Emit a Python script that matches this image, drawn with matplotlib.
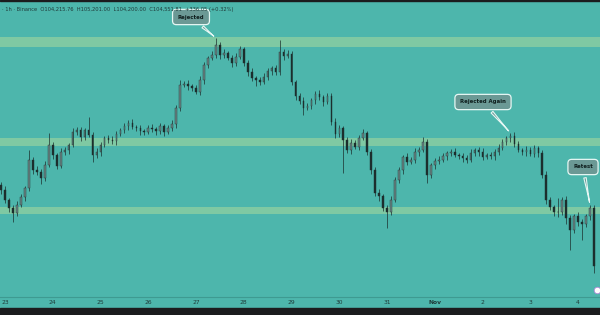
import numpy as np
import pandas as pd
import matplotlib
matplotlib.use("Agg")
import matplotlib.pyplot as plt
import matplotlib.dates as mdates
import matplotlib.transforms as mtransforms

# 2h candles, BTC/USDT, Oct 22 22:00 -> Nov 4 08:00
first_open = 108850
closes = [
    108600, 108100, 107700, 107450, 107850, 108250, 108700, 110100, 109600, 109500,
    109200, 109850, 110850, 110350, 109800, 110500, 110600, 110850, 111500, 111600,
    111250, 111600, 111350, 110350, 110500, 110850, 111200, 111100, 111050, 111400,
    111600, 111800, 111950, 111750, 111700, 111550, 111500, 111700, 111650, 111550,
    111800, 111500, 111700, 111900, 112700, 113850, 113900, 113800, 113700, 113500,
    114100, 114850, 115200, 115350, 115850, 115350, 115450, 115200, 114950, 115250,
    115650, 114950, 114500, 114200, 114100, 114000, 114250, 114550, 114700, 114500,
    115500, 115300, 115400, 114000, 113300, 113050, 112700, 112800, 113100, 113400,
    113250, 113000, 113300, 112000, 111400, 111700, 111100, 110600, 110950, 110750,
    111200, 111450, 110500, 109600, 108450, 108300, 107700, 107500, 108100, 109100,
    109600, 110250, 110000, 110100, 110500, 110600, 111000, 109350, 109850, 110050,
    110100, 110300, 110450, 110500, 110350, 110300, 110200, 110100, 110450, 110600,
    110500, 110250, 110350, 110300, 110500, 110700, 111000, 111200, 111300, 110900,
    110600, 110500, 110600, 110400, 110700, 110450, 109350, 108100, 107750, 107500,
    107500, 108100, 107200, 106600, 107300, 107000, 106900, 107300, 107700, 104800,
]
up_wick = [
    150, 200, 100, 150, 200, 150, 100, 500, 150, 200,
    150, 200, 600, 150, 100, 200, 150, 100, 200, 150,
    150, 100, 650, 150, 200, 150, 100, 150, 200, 150,
    100, 150, 150, 200, 100, 150, 100, 150, 200, 100,
    150, 100, 150, 200, 150, 250, 150, 200, 100, 150,
    200, 150, 100, 200, 350, 150, 200, 100, 150, 200,
    150, 100, 150, 200, 100, 150, 200, 150, 100, 150,
    600, 150, 200, 150, 100, 150, 200, 150, 100, 150,
    200, 100, 150, 150, 200, 150, 100, 150, 200, 150,
    150, 200, 100, 150, 150, 200, 100, 150, 200, 150,
    150, 100, 200, 150, 200, 150, 250, 150, 100, 150,
    200, 150, 100, 150, 200, 100, 150, 150, 200, 100,
    150, 200, 100, 150, 150, 200, 150, 100, 150, 200,
    150, 100, 200, 150, 150, 100, 150, 200, 150, 100,
    700, 150, 200, 150, 100, 200, 150, 100, 150, 150,
]
down_wick = [
    200, 150, 200, 450, 150, 100, 200, 150, 200, 150,
    300, 150, 100, 200, 150, 100, 150, 200, 100, 150,
    200, 150, 100, 350, 150, 200, 100, 150, 150, 200,
    100, 150, 200, 100, 150, 200, 150, 100, 150, 200,
    150, 200, 100, 150, 200, 150, 100, 200, 150, 100,
    150, 200, 150, 100, 150, 200, 150, 100, 200, 150,
    100, 150, 200, 150, 300, 150, 100, 150, 200, 150,
    150, 200, 100, 150, 200, 150, 350, 100, 150, 200,
    150, 200, 100, 150, 200, 150, 1650, 150, 200, 100,
    150, 100, 150, 200, 150, 250, 150, 800, 150, 100,
    150, 200, 150, 100, 150, 200, 100, 400, 150, 200,
    150, 100, 200, 150, 100, 150, 200, 150, 100, 150,
    200, 150, 100, 150, 200, 150, 100, 150, 200, 150,
    100, 150, 200, 100, 150, 200, 150, 200, 150, 200,
    250, 150, 300, 1000, 150, 200, 800, 150, 200, 350,
]
zones = [(115750, 116250), (110800, 111200), (107400, 107750)]
day_labels = ["23", "24", "25", "26", "27", "28", "29", "30", "31", "Nov", "2", "3", "4"]
callouts = [("Rejected", 54, (191, 298)), ("Rejected Again", 128, (483, 213)), ("Retest", 148, (583, 148))]
header = "· 1h · Binance  O104,215.76  H105,201.00  L104,200.00  C104,551.81  +336.05 (+0.32%)"

times = pd.date_range("2025-10-22 22:00", periods=len(closes), freq="2h")
x = mdates.date2num(times)
closes = np.array(closes)
opens = np.concatenate([[first_open], closes[:-1]])
highs = np.maximum(opens, closes) + np.array(up_wick)
lows = np.minimum(opens, closes) - np.array(down_wick)

BG = "#4db6ac"
fig = plt.figure(figsize=(6, 3.15), dpi=100)
fig.patch.set_facecolor(BG)
ax = fig.add_axes([0, 0, 1, 1])
ax.set_facecolor(BG)

for lo, hi in zones:
    ax.axhspan(lo, hi, color="#7fc9a3", lw=0, zorder=1)

up = closes >= opens
body_lo = np.minimum(opens, closes)
body_h = np.maximum(np.abs(closes - opens), 25)
w = 2 / 24 * 0.4
ax.vlines(x, lows, highs, color="#1c2e2d", lw=0.5, zorder=2)
ax.bar(x[up], body_h[up], bottom=body_lo[up], width=w, color="#668583",
       edgecolor="#243736", lw=0.3, zorder=3)
ax.bar(x[~up], body_h[~up], bottom=body_lo[~up], width=w, color="#1c2e2d",
       edgecolor="#1c2e2d", lw=0.3, zorder=3)

t0 = mdates.date2num(pd.Timestamp("2025-10-23"))
ax.set_xlim(t0 - 2.51 / 24, t0 + 299 / 24)
ax.set_ylim(118100 - 50 * 315, 118100)
ax.set_xticks([])
ax.set_yticks([])
for s in ax.spines.values():
    s.set_visible(False)

# bottom time scale
ax.axhspan(118100 - 50 * 315, 118100 - 50 * 297, color=BG, zorder=4)
ax.axhline(118100 - 50 * 297, color="#3e9a91", lw=0.8, zorder=5)
ax.axhspan(118100 - 50 * 315, 118100 - 50 * 308, color="#1b1c1e", zorder=5)
trans = mtransforms.blended_transform_factory(ax.transData, ax.transAxes)
for k, lab in enumerate(day_labels):
    ax.text(t0 + k, 1 - 303 / 315, lab, transform=trans, ha="center", va="center",
            fontsize=4.3, color="#1f3b3a", fontweight="bold" if lab == "Nov" else "normal", zorder=6)

# top strip + legend line
ax.axhspan(118100 - 50 * 1.2, 118100, color="#1b1c1e", zorder=5)
fig.text(2 / 600, 1 - 10 / 315, header, fontsize=3.7, color="#1f3b3a", va="center", ha="left")

for text, i, pos in callouts:
    ax.annotate(text, xy=(x[i], highs[i]), xycoords="data", xytext=pos, textcoords="figure pixels",
                ha="center", va="center", fontsize=3.9, fontweight="bold", color="#10201f",
                bbox=dict(boxstyle="round,pad=0.95,rounding_size=0.7", fc="#6b9995", ec="#e6f7f4", lw=0.9),
                arrowprops=dict(arrowstyle="wedge,tail_width=0.45,shrink_factor=0.4",
                                fc="#6b9995", ec="#e6f7f4", lw=0.8),
                zorder=7)

ax.scatter([597 / 600], [1 - 290 / 315], s=22, transform=ax.transAxes, color="white",
           edgecolor="#b08ad8", lw=0.6, zorder=7)

fig.savefig("out.png", dpi=100, facecolor=BG)
